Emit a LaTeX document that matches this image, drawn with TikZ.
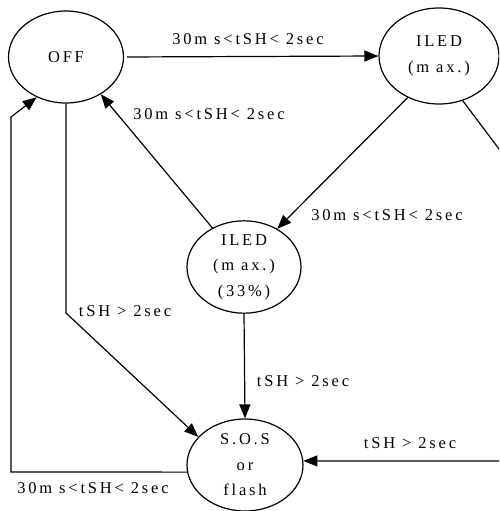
\documentclass[tikz,border=0pt]{standalone}
\usepackage{fontspec}
\setmainfont{Liberation Serif}[LetterSpace=17]
\usetikzlibrary{shapes.geometric,arrows.meta}
\begin{document}
\begin{tikzpicture}[x=1pt,y=-1pt,
  state/.style={draw,ellipse,line width=1.2pt,inner sep=0pt,align=center,font=\fontsize{16.5}{25.5}\selectfont},
  edge/.style={line width=1.2pt,-{Triangle[length=14pt,width=11pt]}},
  lbl/.style={font=\fontsize{16.5}{18}\selectfont,inner sep=0pt}]
\useasboundingbox (0,0) rectangle (499,511);
\clip (0,0) rectangle (499,511);
\node[state,minimum width=115,minimum height=92] (off) at (66,57) {OFF};
\node[state,minimum width=120,minimum height=96] (ileda) at (439,56) {ILED\\(m ax.)};
\node[state,minimum width=114,minimum height=92] (iledb) at (244,267) {ILED\\(m ax.)\\(33\%)};
\node[state,minimum width=116,minimum height=92] (sos) at (245,465) {S.O.S\\or\\flash};
\coordinate (c1) at (66,313);
\coordinate (c2) at (11,472);
\coordinate (c3) at (11,117);
\coordinate (r1) at (535,197);
\coordinate (r2) at (535,461);
\draw[edge,shorten <=3pt] (off.east) -- (ileda.west);
\draw[edge] (ileda.233) -- (iledb.49);
\draw[edge] (iledb.129) -- (off.313);
\draw[edge] (off.south) -- (c1) -- (sos.149);
\draw[edge] (iledb.south) -- (sos.north);
\draw[edge] (sos.187) -- (c2) -- (c3) -- (off.234);
\draw[edge] (ileda.298) -- (r1) -- (r2) -- (sos.4);
\node[lbl] (l1) at (248,39) {30m s<tSH< 2sec};
\node[lbl] (l2) at (209,114) {30m s<tSH< 2sec};
\node[lbl] (l3) at (387,215) {30m s<tSH< 2sec};
\node[lbl] (l4) at (93,488) {30m s<tSH< 2sec};
\node[lbl] (l5) at (125,311) {tSH > 2sec};
\node[lbl] (l6) at (303,381) {tSH > 2sec};
\node[lbl] (l7) at (410,443) {tSH > 2sec};
\end{tikzpicture}
\end{document}
